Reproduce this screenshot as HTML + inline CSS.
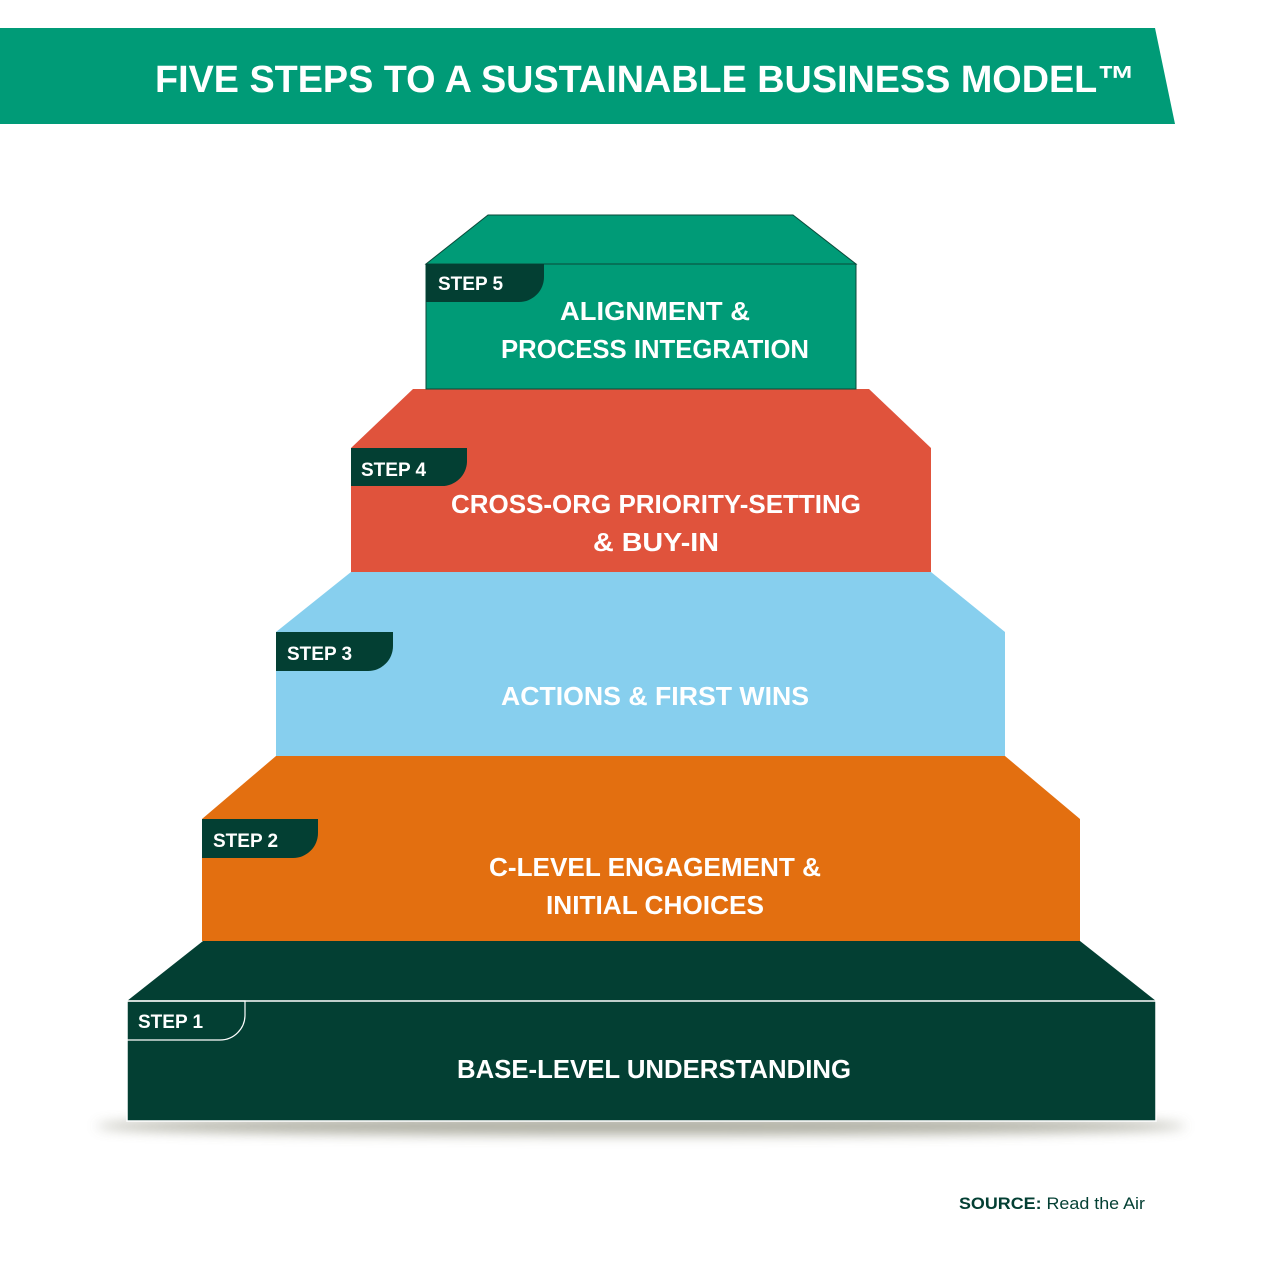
<!DOCTYPE html>
<html><head><meta charset="utf-8">
<style>
html,body{margin:0;padding:0;background:#fff;}
svg{display:block;}
text{font-family:"Liberation Sans",sans-serif;font-weight:bold;fill:#fff;}
</style></head>
<body>
<svg width="1280" height="1280" viewBox="0 0 1280 1280" xmlns="http://www.w3.org/2000/svg">
<defs>
<filter id="blur" x="-20%" y="-200%" width="140%" height="500%"><feGaussianBlur stdDeviation="6"/></filter>
</defs>
<!-- header -->
<polygon points="0,28 1155,28 1175,124 0,124" fill="#009b77"/>
<text x="645" y="92" font-size="38" text-anchor="middle" textLength="980" lengthAdjust="spacingAndGlyphs">FIVE STEPS TO A SUSTAINABLE BUSINESS MODEL™</text>

<!-- shadow -->
<ellipse cx="641" cy="1126" rx="545" ry="9" fill="#9a9a8a" filter="url(#blur)" opacity="0.8"/>

<!-- step 1 -->
<polygon points="203,941 1080,941 1156,1001 127,1001" fill="#033f33"/>
<rect x="127" y="1001" width="1029" height="120" fill="#033f33" stroke="#fff" stroke-width="1.5"/>
<path d="M127,1001 H245 V1015 A25,25 0 0 1 220,1040 H127" fill="none" stroke="#fff" stroke-width="1.2"/>
<text x="138" y="1028" font-size="19">STEP 1</text>
<text x="654" y="1078" font-size="26" text-anchor="middle" textLength="394" lengthAdjust="spacingAndGlyphs">BASE-LEVEL UNDERSTANDING</text>

<!-- step 2 -->
<polygon points="276,756 1005,756 1080,819 202,819" fill="#e36f10"/>
<rect x="202" y="819" width="878" height="122" fill="#e36f10"/>
<path d="M202,819 H318 V833 A25,25 0 0 1 293,858 H202 Z" fill="#033f33"/>
<text x="213" y="847" font-size="19">STEP 2</text>
<text x="655" y="876" font-size="26" text-anchor="middle" textLength="332" lengthAdjust="spacingAndGlyphs">C-LEVEL ENGAGEMENT &amp;</text>
<text x="655" y="914" font-size="26" text-anchor="middle" textLength="218" lengthAdjust="spacingAndGlyphs">INITIAL CHOICES</text>

<!-- step 3 -->
<polygon points="351,572 931,572 1005,632 276,632" fill="#87cfee"/>
<rect x="276" y="632" width="729" height="124" fill="#87cfee"/>
<path d="M276,632 H393 V646 A25,25 0 0 1 368,671 H276 Z" fill="#033f33"/>
<text x="287" y="660" font-size="19">STEP 3</text>
<text x="655" y="705" font-size="26" text-anchor="middle" textLength="308" lengthAdjust="spacingAndGlyphs">ACTIONS &amp; FIRST WINS</text>

<!-- step 4 -->
<polygon points="413,389 869,389 931,448 351,448" fill="#e0533c"/>
<rect x="351" y="448" width="580" height="124" fill="#e0533c"/>
<path d="M351,448 H467 V462 A25,25 0 0 1 442,486 H351 Z" fill="#033f33"/>
<text x="361" y="476" font-size="19">STEP 4</text>
<text x="656" y="513" font-size="26" text-anchor="middle" textLength="410" lengthAdjust="spacingAndGlyphs">CROSS-ORG PRIORITY-SETTING</text>
<text x="656" y="551" font-size="26" text-anchor="middle" textLength="126" lengthAdjust="spacingAndGlyphs">&amp; BUY-IN</text>

<!-- step 5 -->
<polygon points="488,215 793,215 856,264 426,264" fill="#009b77" stroke="#0a4a3a" stroke-width="1"/>
<rect x="426" y="264" width="430" height="125" fill="#009b77" stroke="#0a4a3a" stroke-width="1"/>
<path d="M426,264 H544 V277 A25,25 0 0 1 519,302 H426 Z" fill="#033f33"/>
<text x="438" y="290" font-size="19">STEP 5</text>
<text x="655" y="320" font-size="26" text-anchor="middle" textLength="190" lengthAdjust="spacingAndGlyphs">ALIGNMENT &amp;</text>
<text x="655" y="358" font-size="26" text-anchor="middle" textLength="308" lengthAdjust="spacingAndGlyphs">PROCESS INTEGRATION</text>

<!-- source -->
<text x="959" y="1209" font-size="17" style="fill:#033f33" textLength="186" lengthAdjust="spacingAndGlyphs">SOURCE:<tspan font-weight="normal"> Read the Air</tspan></text>
</svg>
</body></html>
